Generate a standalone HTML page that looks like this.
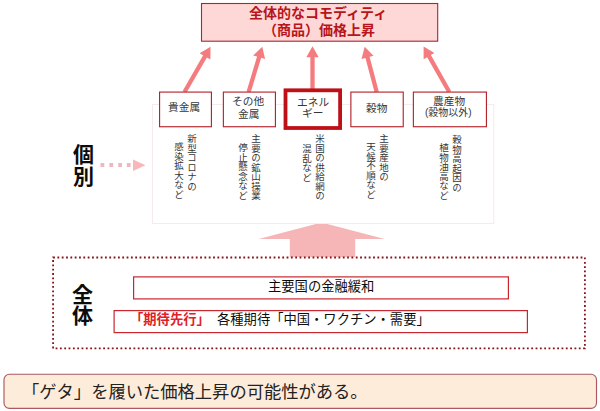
<!DOCTYPE html>
<html lang="ja">
<head>
<meta charset="utf-8">
<title>全体的なコモディティ（商品）価格上昇</title>
<style>
html,body{margin:0;padding:0;background:#fff;}
body{width:600px;height:411px;overflow:hidden;position:relative;font-family:"Liberation Sans","Noto Sans CJK JP",sans-serif;}
svg{position:absolute;left:0;top:0;display:block;}
.t{position:absolute;color:#363636;white-space:nowrap;font-family:"Liberation Sans","Noto Sans CJK JP",sans-serif;}
.v{writing-mode:vertical-rl;}
</style>
</head>
<body>
<svg width="600" height="411" viewBox="0 0 600 411" shape-rendering="geometricPrecision">
<polygon points="321.6,222.5 384.6,239 355.2,239 355.2,257 289.8,257 289.8,239 258.6,239" fill="#f6b6b8"/>
<rect x="152.5" y="104.5" width="341.3" height="119" fill="#fff" stroke="#f8e9eb" stroke-width="1"/>
<rect x="201.5" y="3.5" width="236.2" height="37.7" fill="#fdd8d7" stroke="#a42a32" stroke-width="1.1"/>
<polygon points="186.36,93.07 206.88,57.41 210.39,59.43 210.5,46.8 199.64,53.24 203.15,55.26 182.64,90.93" fill="#f47c7e"/>
<polygon points="250.66,92.62 261.17,57.85 265.05,59.02 262.3,46.7 253.18,55.43 257.06,56.61 246.54,91.38" fill="#f47c7e"/>
<polygon points="314.65,90 314.65,57.3 318.7,57.3 312.5,46.3 306.3,57.3 310.35,57.3 310.35,90" fill="#f47c7e"/>
<polygon points="378.78,91.45 369.6,56.78 373.51,55.75 364.7,46.7 361.52,58.92 365.44,57.88 374.62,92.55" fill="#f47c7e"/>
<polygon points="451.17,90.94 430.89,55.11 434.41,53.12 423.6,46.6 423.62,59.23 427.15,57.23 447.43,93.06" fill="#f47c7e"/>
<rect x="159.57" y="92.08" width="51.85" height="34.65" fill="#fff" stroke="#b4262e" stroke-width="1.15"/>
<rect x="223.38" y="92.08" width="52.05" height="34.65" fill="#fff" stroke="#b4262e" stroke-width="1.15"/>
<rect x="285.5" y="90.3" width="54.6" height="37.7" fill="#fff" stroke="#bf1018" stroke-width="3.8"/>
<rect x="350.88" y="92.08" width="52.35" height="34.65" fill="#fff" stroke="#b4262e" stroke-width="1.15"/>
<rect x="413.38" y="92.08" width="73.05" height="34.65" fill="#fff" stroke="#b4262e" stroke-width="1.15"/>
<rect x="100.5" y="163" width="3.8" height="4" fill="#edb8c0"/>
<rect x="109.4" y="163" width="3.8" height="4" fill="#edb8c0"/>
<rect x="118.2" y="163" width="3.8" height="4" fill="#edb8c0"/>
<rect x="126.8" y="163" width="3.8" height="4" fill="#edb8c0"/>
<polygon points="133,159.5 145.5,165.2 133,171" fill="#f8b8ba"/>
<path d="M53.1 257.5H584.9V348.4H53.1Z" fill="none" stroke="#86121a" stroke-width="1.8" stroke-dasharray="1.8 2.524"/>
<rect x="133.6" y="276.9" width="374.8" height="22" fill="#fff" stroke="#c8262e" stroke-width="1.2"/>
<rect x="114.1" y="310.6" width="413.3" height="22" fill="#fff" stroke="#c8262e" stroke-width="1.2"/>
<rect x="4" y="374.2" width="592.5" height="34.2" rx="5.5" fill="#feecda" stroke="#a85a5e" stroke-width="1.15"/>
</svg>
<div class="t" style="left:249px;top:6px;height:14px;font-size:14px;line-height:14px;color:#b8141c;font-weight:bold">全体的なコモディティ</div>
<div class="t" style="left:263px;top:22px;height:16px;font-size:14px;line-height:16px;color:#b8141c;font-weight:bold">（商品）価格上昇</div>
<div class="t" style="left:168px;top:101px;height:12px;font-size:10.7px;line-height:12px">貴金属</div>
<div class="t" style="left:232px;top:95px;height:12px;font-size:10.7px;line-height:12px">その他</div>
<div class="t" style="left:238px;top:108px;height:12px;font-size:10.7px;line-height:12px">金属</div>
<div class="t" style="left:297px;top:96px;height:12px;font-size:10.7px;line-height:12px">エネル</div>
<div class="t" style="left:302px;top:107px;height:12px;font-size:10.7px;line-height:12px">ギー</div>
<div class="t" style="left:366px;top:102px;height:12px;font-size:10.7px;line-height:12px">穀物</div>
<div class="t" style="left:433px;top:95px;height:12px;font-size:10.7px;line-height:12px">農産物</div>
<div class="t" style="left:425px;top:107px;height:12px;font-size:10px;line-height:12px">(穀物以外)</div>
<div class="t" style="left:73px;top:144px;height:22px;font-size:21px;line-height:22px;color:#0c0c0c;font-weight:bold">個</div>
<div class="t" style="left:73px;top:166px;height:22px;font-size:21px;line-height:22px;color:#0c0c0c;font-weight:bold">別</div>
<div class="t" style="left:72px;top:284px;height:21px;font-size:21px;line-height:21px;color:#0c0c0c;font-weight:bold">全</div>
<div class="t" style="left:72px;top:305px;height:21px;font-size:21px;line-height:21px;color:#0c0c0c;font-weight:bold">体</div>
<div class="t" style="left:268px;top:279px;height:15px;font-size:13.3px;line-height:15px;color:#0c0c0c">主要国の金融緩和</div>
<div class="t" style="left:130px;top:312px;height:16px;font-size:13.3px;line-height:16px;color:#e02028;font-weight:bold">「期待先行」</div>
<div class="t" style="left:217px;top:312px;height:16px;font-size:13.3px;line-height:16px;color:#0c0c0c">各種期待「中国・ワクチン・需要」</div>
<div class="t" style="left:22px;top:383px;height:19px;font-size:17.3px;line-height:19px;color:#222">「ゲタ」を履いた価格上昇の可能性がある。</div>
<div class="t v" style="left:185px;top:134px;width:12px;font-size:9.5px;line-height:12px">新型コロナの</div>
<div class="t v" style="left:172px;top:142px;width:12px;font-size:9.5px;line-height:12px">感染拡大など</div>
<div class="t v" style="left:249px;top:134px;width:12px;font-size:9.5px;line-height:12px">主要の鉱山操業</div>
<div class="t v" style="left:236px;top:143px;width:12px;font-size:9.5px;line-height:12px">停止懸念など</div>
<div class="t v" style="left:313px;top:134px;width:12px;font-size:9.5px;line-height:12px">米国の供給網の</div>
<div class="t v" style="left:300px;top:144px;width:12px;font-size:9.5px;line-height:12px">混乱など</div>
<div class="t v" style="left:377px;top:134px;width:12px;font-size:9.5px;line-height:12px">主要産地の</div>
<div class="t v" style="left:364px;top:142px;width:12px;font-size:9.5px;line-height:12px">天候不順など</div>
<div class="t v" style="left:450px;top:135px;width:12px;font-size:9.5px;line-height:12px">穀物高起因の</div>
<div class="t v" style="left:437px;top:143px;width:12px;font-size:9.5px;line-height:12px">植物油高など</div>
</body>
</html>
